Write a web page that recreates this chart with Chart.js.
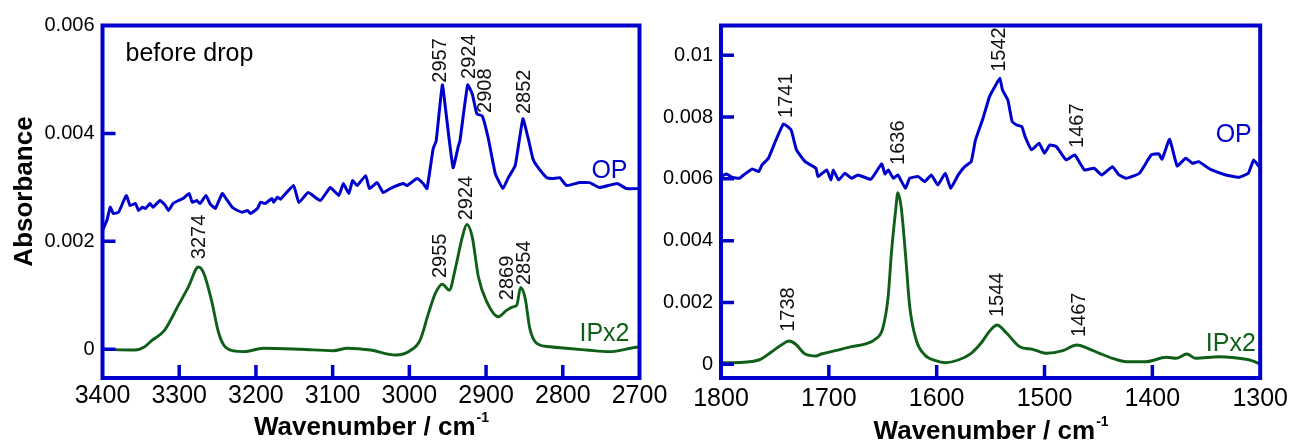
<!DOCTYPE html>
<html>
<head>
<meta charset="utf-8">
<script src="https://cdn.jsdelivr.net/npm/chart.js@4.4.1/dist/chart.umd.min.js"></script>
<style>
  body { margin: 0; background: #fff; width: 1294px; height: 441px; position: relative; overflow: hidden; }
  canvas { position: absolute; top: 0; }
  #left { left: 0; }
  #right { left: 650px; }
</style>
</head>
<body>
<canvas id="left" width="700" height="441"></canvas>
<canvas id="right" width="644" height="441"></canvas>
<script>
const BLUE = "#0000cc";
const GREEN = "#0e5f17";
const FONT = "'Liberation Sans', Arial, Helvetica, sans-serif";

// ---- left panel: 3400-2700 cm-1 ----
const leftXTicks = [3400, 3300, 3200, 3100, 3000, 2900, 2800, 2700];
const leftYTicks = [0, 0.002, 0.004, 0.006];
const leftYLabels = ["0", "0.002", "0.004", "0.006"];

const opLeftX = [3400, 3394, 3390, 3386, 3379, 3369, 3364, 3357, 3353, 3348, 3344, 3338, 3334, 3325, 3318, 3314,
  3308, 3301, 3295, 3287, 3283, 3277, 3273, 3265, 3260, 3253, 3244, 3239, 3231, 3224, 3218, 3211, 3207, 3198,
  3194, 3188, 3179, 3177, 3172, 3168, 3151, 3144, 3132, 3116, 3103, 3092, 3086, 3079, 3074, 3068, 3057, 3052,
  3042, 3034, 3025, 3008, 3003, 2990, 2982, 2977, 2969, 2965, 2957, 2951, 2943, 2936, 2934, 2924, 2918, 2912,
  2905, 2897, 2888, 2878, 2871, 2862, 2852, 2845, 2839, 2834, 2821, 2813, 2804, 2795, 2778, 2765, 2752, 2729,
  2717, 2700];
const opLeftY = [0.00220, 0.00240, 0.002633, 0.002517, 0.002541, 0.002849, 0.002664, 0.002701, 0.002572, 0.002633,
  0.002609, 0.002701, 0.002633, 0.002757, 0.002664, 0.002572, 0.002701, 0.002757, 0.002794, 0.002886, 0.002725,
  0.002757, 0.002701, 0.002849, 0.002701, 0.002609, 0.002886, 0.002794, 0.002633, 0.002572, 0.002541, 0.002572,
  0.002517, 0.002609, 0.002725, 0.002701, 0.002794, 0.002725, 0.002818, 0.00278, 0.003034, 0.00272, 0.002904,
  0.002757, 0.002997, 0.00285, 0.003071, 0.002886, 0.003127, 0.003034, 0.003218, 0.002978, 0.003089, 0.002904,
  0.002978, 0.003071, 0.003034, 0.003163, 0.003071, 0.002978, 0.003717, 0.003865, 0.004899, 0.004234, 0.003366,
  0.003772, 0.003865, 0.004899, 0.004732, 0.004363, 0.004326, 0.003902, 0.003256, 0.002978, 0.003181, 0.003403,
  0.004271, 0.003902, 0.003532, 0.003403, 0.003181, 0.003163, 0.003181, 0.003034, 0.003089, 0.003089, 0.002997,
  0.003071, 0.002978, 0.002978];

const ipLeftX = [3400, 3358, 3345, 3336, 3319, 3301, 3288, 3275, 3268, 3258, 3249, 3242, 3229, 3216, 3190, 3142,
  3099, 3081, 3051, 3018, 2999, 2986, 2975, 2966, 2957, 2948, 2940, 2931, 2925, 2918, 2910, 2899, 2884, 2873,
  2865, 2860, 2855, 2849, 2843, 2834, 2817, 2769, 2739, 2704, 2700];
const ipLeftY = [0.0, -0.000013, 0.000048, 0.000159, 0.000356, 0.000818, 0.001156, 0.001525, 0.001409, 0.00091,
  0.000325, 0.00008, -0.00003, -0.000044, 0.000018, 0.0, -0.000026, 0.000018, -0.000013, -0.000105, -0.000026,
  0.000172, 0.00067, 0.00104, 0.001206, 0.001095, 0.001501, 0.002079, 0.002314, 0.002079, 0.00134, 0.000879,
  0.000602, 0.000726, 0.000787, 0.000818, 0.001145, 0.000942, 0.000388, 0.000111, 0.000048, -0.000013, -0.000044,
  0.000037, 0.00004];

const leftPeakText = ["3274", "2957", "2924", "2908", "2852", "2955", "2924", "2869", "2854"];
const leftPeakX = [3273, 2959, 2921, 2901, 2850, 2959, 2926, 2872, 2850];
const leftPeakY = [0.00167, 0.00494, 0.00501, 0.00438, 0.00436, 0.00132, 0.00239, 0.00091, 0.00119];

// ---- right panel: 1800-1300 cm-1 ----
const rightXTicks = [1800, 1700, 1600, 1500, 1400, 1300];
const rightYTicks = [0, 0.002, 0.004, 0.006, 0.008, 0.01];
const rightYLabels = ["0", "0.002", "0.004", "0.006", "0.008", "0.01"];

const opRightX = [1800, 1795, 1790, 1783, 1779, 1771, 1765, 1762, 1756, 1749, 1742, 1735, 1730, 1722, 1712, 1710,
  1702, 1698, 1696, 1691, 1685, 1679, 1673, 1661, 1651, 1648, 1645, 1640, 1636, 1629, 1625, 1617, 1611, 1605,
  1599, 1592, 1587, 1580, 1574, 1568, 1564, 1557, 1551, 1546, 1541.5, 1539, 1534, 1530, 1526, 1521, 1518, 1512,
  1505, 1500, 1495, 1489, 1480, 1472, 1463, 1454, 1447, 1437, 1431, 1424, 1412, 1401, 1394, 1391, 1384, 1377,
  1369, 1363, 1357, 1350, 1345, 1332, 1320, 1311, 1306, 1300];
const opRightY = [0.006071, 0.006158, 0.006051, 0.006019, 0.006126, 0.00632, 0.006233, 0.006449, 0.006666, 0.007258,
  0.007776, 0.007582, 0.006935, 0.006556, 0.006343, 0.006071, 0.006288, 0.005964, 0.006288, 0.005964, 0.006181,
  0.006019, 0.006126, 0.005987, 0.006482, 0.006158, 0.006288, 0.006019, 0.006126, 0.005695, 0.006019, 0.006071,
  0.005909, 0.006126, 0.005802, 0.006181, 0.005695, 0.006126, 0.006394, 0.006556, 0.007258, 0.007961, 0.00866,
  0.008983, 0.009255, 0.008876, 0.008553, 0.007851, 0.007744, 0.007689, 0.007365, 0.006935, 0.007152, 0.006828,
  0.007097, 0.007042, 0.006611, 0.006773, 0.006288, 0.006343, 0.006126, 0.006394, 0.006126, 0.006019, 0.006181,
  0.006773, 0.006806, 0.006634, 0.007281, 0.006417, 0.006666, 0.006504, 0.006556, 0.006394, 0.006288, 0.006126,
  0.006051, 0.006181, 0.006611, 0.006343];

const ipRightX = [1800, 1790, 1765, 1753, 1744, 1737, 1731, 1722, 1712, 1707, 1694, 1679, 1666, 1657, 1650, 1645,
  1642, 1638, 1636, 1633, 1629, 1625, 1619, 1611, 1601, 1592, 1580, 1568, 1559, 1550, 1544, 1535, 1523, 1511,
  1498, 1483, 1470, 1460, 1449, 1437, 1424, 1406, 1387, 1378, 1368, 1360, 1338, 1313, 1308, 1300];
const ipRightY = [0.000052, 0.000052, 0.000139, 0.000408, 0.000625, 0.000754, 0.000657, 0.000333, 0.000269, 0.000333,
  0.00044, 0.00057, 0.000657, 0.000809, 0.001165, 0.002188, 0.003592, 0.004993, 0.005553, 0.0051, 0.003592,
  0.001864, 0.000786, 0.000301, 0.000117, 0.000052, 0.000139, 0.000356, 0.00068, 0.00111, 0.001272, 0.001003,
  0.00057, 0.000485, 0.000356, 0.00044, 0.000625, 0.000518, 0.000356, 0.000194, 0.000084, 0.000084, 0.000227,
  0.000194, 0.000333, 0.000194, 0.000246, 0.000162, 0.000117, 0.00001];

const rightPeakText = ["1741", "1636", "1542", "1467", "1738", "1544", "1467"];
const rightPeakX = [1739.5, 1635, 1541.5, 1469.4, 1737.7, 1543.3, 1467.6];
const rightPeakY = [0.00797, 0.00645, 0.00946, 0.0070, 0.00105, 0.00153, 0.00088];

const toPoints = (xs, ys) => xs.map((x, i) => ({ x: x, y: ys[i] }));

// frame, inward ticks and all the text that sits on the plot
const framePlugin = {
  id: "frame",
  afterDatasetsDraw(chart, args, o) {
    const { ctx, chartArea: a, scales } = chart;
    ctx.save();
    ctx.strokeStyle = BLUE;
    ctx.lineWidth = 3.5;
    ctx.beginPath();
    o.yTicks.forEach(v => {
      const y = scales.y.getPixelForValue(v);
      if (y > a.top + 4 && y < a.bottom - 4) { ctx.moveTo(a.left, y); ctx.lineTo(a.left + 13, y); }
    });
    o.xTicks.forEach(v => {
      const x = scales.x.getPixelForValue(v);
      if (x > a.left + 4 && x < a.right - 4) { ctx.moveTo(x, a.bottom); ctx.lineTo(x, a.bottom - 13); }
    });
    ctx.stroke();
    ctx.lineWidth = 4;
    ctx.strokeRect(a.left, a.top, a.right - a.left, a.bottom - a.top);

    // peak labels, rotated
    ctx.fillStyle = "#111";
    ctx.font = "20px " + FONT;
    ctx.textAlign = "left";
    ctx.textBaseline = "middle";
    o.peakText.forEach((t, i) => {
      const x = scales.x.getPixelForValue(o.peakX[i]);
      const y = scales.y.getPixelForValue(o.peakY[i]);
      ctx.save();
      ctx.translate(x, y);
      ctx.rotate(-Math.PI / 2);
      ctx.fillText(t, 0, 0);
      ctx.restore();
    });

    // series names and notes
    ctx.textBaseline = "alphabetic";
    o.notes.forEach(n => {
      ctx.fillStyle = n.color;
      ctx.font = "25px " + FONT;
      ctx.textAlign = n.align;
      ctx.fillText(n.text, scales.x.getPixelForValue(n.x), scales.y.getPixelForValue(n.y));
    });

    // x axis title with superscript
    ctx.fillStyle = "#000";
    const main = "Wavenumber / cm", sup = "-1";
    ctx.font = "bold 26px " + FONT;
    const w1 = ctx.measureText(main).width;
    ctx.font = "bold 14px " + FONT;
    const w2 = ctx.measureText(sup).width;
    const x0 = (a.left + a.right) / 2 - (w1 + w2) / 2;
    const by = a.bottom + o.titleDrop;
    ctx.textAlign = "left";
    ctx.font = "bold 26px " + FONT;
    ctx.fillText(main, x0, by);
    ctx.font = "bold 14px " + FONT;
    ctx.fillText(sup, x0 + w1 + 1, by - 13);

    if (o.yTitle) {
      ctx.save();
      ctx.translate(32, 191.5);
      ctx.rotate(-Math.PI / 2);
      ctx.font = "bold 26px " + FONT;
      ctx.textAlign = "center";
      ctx.fillText(o.yTitle, 0, 0);
      ctx.restore();
    }
    ctx.restore();
  }
};

function panel(id, p) {
  return new Chart(document.getElementById(id), {
    type: "line",
    data: {
      datasets: [
        { data: p.op, borderColor: BLUE, borderWidth: 3, pointRadius: 0, tension: 0.12 },
        { data: p.ip, borderColor: GREEN, borderWidth: 2.9, pointRadius: 0, cubicInterpolationMode: "monotone" }
      ]
    },
    options: {
      responsive: false,
      animation: false,
      events: [],
      layout: { padding: { top: 25.5, right: p.padRight, left: 0, bottom: 0 } },
      plugins: {
        legend: { display: false },
        tooltip: { enabled: false },
        frame: p.frame
      },
      scales: {
        x: {
          type: "linear", reverse: true, min: p.xMin, max: p.xMax,
          grid: { display: false, drawTicks: false }, border: { display: false },
          afterBuildTicks: s => { s.ticks = p.xTicks.map(v => ({ value: v })); },
          afterFit: s => { s.height = 63; },
          ticks: { padding: p.xPad, color: "#000", font: { size: 25, family: FONT }, autoSkip: false, maxRotation: 0,
            callback: v => String(v) }
        },
        y: {
          type: "linear", min: p.yMin, max: p.yMax,
          grid: { display: false, drawTicks: false }, border: { display: false },
          afterBuildTicks: s => { s.ticks = p.yTicks.map(v => ({ value: v })); },
          afterFit: s => { s.width = p.yWidth; },
          ticks: { padding: 8, color: "#000", font: { size: 20, family: FONT }, autoSkip: false,
            callback: (v, i) => p.yLabels[i] }
        }
      }
    },
    plugins: [framePlugin]
  });
}

panel("left", {
  op: toPoints(opLeftX, opLeftY), ip: toPoints(ipLeftX, ipLeftY),
  xMin: 2700, xMax: 3400, yMin: -0.000532, yMax: 0.006,
  xTicks: leftXTicks, yTicks: leftYTicks, yLabels: leftYLabels,
  yWidth: 102.5, padRight: 60.5, xPad: 3,
  frame: {
    xTicks: leftXTicks, yTicks: leftYTicks,
    peakText: leftPeakText, peakX: leftPeakX, peakY: leftPeakY,
    titleDrop: 57, yTitle: "Absorbance",
    notes: [
      { text: "before drop", x: 3370, y: 0.005342, align: "left", color: "#000" },
      { text: "OP", x: 2715.6, y: 0.003181, align: "right", color: BLUE },
      { text: "IPx2", x: 2713, y: 0.000153, align: "right", color: GREEN }
    ]
  }
});

panel("right", {
  op: toPoints(opRightX, opRightY), ip: toPoints(ipRightX, ipRightY),
  xMin: 1300, xMax: 1800, yMin: -0.000443, yMax: 0.01096,
  xTicks: rightXTicks, yTicks: rightYTicks, yLabels: rightYLabels,
  yWidth: 71, padRight: 32, xPad: 6,
  frame: {
    xTicks: rightXTicks, yTicks: rightYTicks,
    peakText: rightPeakText, peakX: rightPeakX, peakY: rightPeakY,
    titleDrop: 61, yTitle: null,
    notes: [
      { text: "OP", x: 1307.8, y: 0.007194, align: "right", color: BLUE },
      { text: "IPx2", x: 1304, y: 0.00043, align: "right", color: GREEN }
    ]
  }
});
</script>
</body>
</html>
